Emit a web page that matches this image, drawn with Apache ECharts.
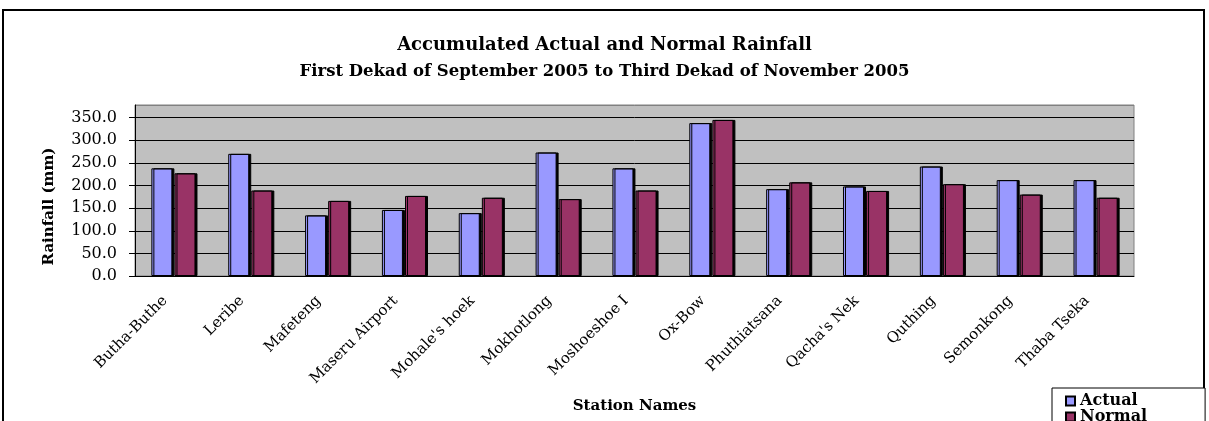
<!DOCTYPE html>
<html>
<head>
<meta charset="utf-8">
<script src="https://cdn.jsdelivr.net/npm/echarts@6/dist/echarts.min.js"></script>
<style>
  html, body { margin: 0; padding: 0; background: #fff; }
  #chart { width: 1209px; height: 421px; }
</style>
</head>
<body>
<div id="chart"></div>
<script>
const stations = ['Butha-Buthe', 'Leribe', 'Mafeteng', 'Maseru Airport', "Mohale's hoek", 'Mokhotlong',
  'Moshoeshoe I', 'Ox-Bow', 'Phuthiatsana', "Qacha's Nek", 'Quthing', 'Semonkong', 'Thaba Tseka']
const actual = [238, 270, 134, 146, 139, 273, 238, 338, 192, 198, 242, 212, 212]
const normal = [227, 189, 166, 177, 173, 170, 189, 345, 207, 188, 203, 180, 173]

const serif = '"DejaVu Serif", "Liberation Serif", serif'

const chart = echarts.init(document.getElementById('chart'))

const option = {
  animation: false,
  backgroundColor: '#fff',
  title: {
    text: 'Accumulated Actual and Normal Rainfall',
    subtext: 'First Dekad of September 2005 to Third Dekad of November 2005',
    left: 'center',
    top: 31,
    itemGap: 9,
    textStyle: { fontFamily: serif, fontWeight: 'bold', fontSize: 18, color: '#000' },
    subtextStyle: { fontFamily: serif, fontWeight: 'bold', fontSize: 16.5, color: '#000' }
  },
  legend: {
    orient: 'vertical',
    left: 1052,
    top: 388,
    height: 80,
    padding: [5, 58, 10, 13],
    itemGap: 0,
    itemWidth: 9,
    itemHeight: 9,
    icon: 'rect',
    borderColor: '#000',
    borderWidth: 1,
    backgroundColor: '#fff',
    textStyle: { fontFamily: serif, fontWeight: 'bold', fontSize: 16, lineHeight: 14, color: '#000' },
    data: ['Actual', 'Normal']
  },
  grid: {
    left: 135,
    top: 105,
    right: 75,
    bottom: 145,
    show: true,
    backgroundColor: '#c0c0c0',
    borderColor: '#808080',
    borderWidth: 1
  },
  xAxis: {
    type: 'category',
    data: stations,
    name: 'Station Names',
    nameLocation: 'middle',
    nameGap: 123,
    nameTextStyle: { fontFamily: serif, fontWeight: 'bold', fontSize: 15, color: '#000' },
    axisLine: { lineStyle: { color: '#000', width: 1 } },
    axisTick: { length: 5, lineStyle: { color: '#000' } },
    axisLabel: {
      rotate: 45,
      margin: 14,
      padding: [0, 12, 0, 0],
      fontFamily: serif,
      fontSize: 15,
      color: '#000'
    }
  },
  yAxis: {
    type: 'value',
    min: 0,
    max: 378,
    interval: 50,
    name: 'Rainfall (mm)',
    nameLocation: 'middle',
    nameGap: 78,
    nameTextStyle: { fontFamily: serif, fontWeight: 'bold', fontSize: 15, color: '#000', padding: [0, 32, 0, 0] },
    axisLine: { show: true, lineStyle: { color: '#000', width: 1 } },
    axisTick: { show: true, length: 6, lineStyle: { color: '#000' } },
    axisLabel: {
      showMaxLabel: false,
      margin: 18,
      fontFamily: serif,
      fontSize: 16,
      color: '#000',
      formatter: v => v.toFixed(1)
    },
    splitLine: {
      lineStyle: {
        color: ['#000', '#000', '#000', '#000', '#000', '#000', '#000', '#000', '#808080'],
        width: 1
      }
    }
  },
  graphic: [
    {
      type: 'rect',
      shape: { x: 3, y: 10, width: 1201, height: 420 },
      style: { fill: 'none', stroke: '#000', lineWidth: 2 },
      silent: true
    }
  ],
  series: [
    {
      name: 'Actual',
      type: 'bar',
      data: actual,
      barWidth: 21,
      barGap: '10%',
      itemStyle: { color: '#9999ff', borderColor: '#000', borderWidth: 1, shadowColor: '#000', shadowOffsetX: 2 }
    },
    {
      name: 'Normal',
      type: 'bar',
      data: normal,
      barWidth: 21,
      itemStyle: { color: '#993366', borderColor: '#000', borderWidth: 1, shadowColor: '#000', shadowOffsetX: 2 }
    }
  ]
}

chart.setOption(option)
</script>
</body>
</html>
